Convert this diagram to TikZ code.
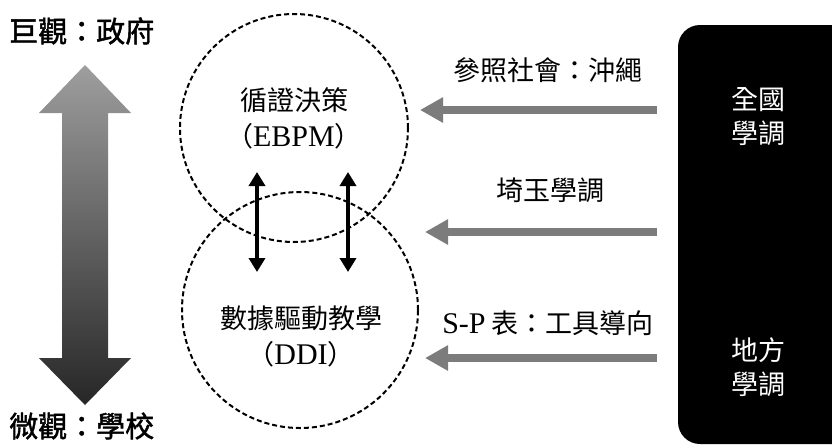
\documentclass[tikz,border=0pt]{standalone}
\usepackage{fontspec}
\setmainfont{Liberation Serif}
\newfontfamily\cjk{Noto Sans CJK TC}
\newfontfamily\cjkb[FakeBold=1.6]{Noto Sans CJK TC}
\newfontfamily\lat{Liberation Serif}
\usetikzlibrary{arrows.meta}
\definecolor{arrgray}{HTML}{7C7C7C}
\tikzset{
  circ/.style={circle, draw=black, line width=2pt, dash pattern=on 5pt off 3pt, inner sep=0pt},
  ctext/.style={font=\fontsize{27}{36}\selectfont\cjk, align=center, inner sep=0pt},
  title/.style={font=\fontsize{29}{34}\selectfont\cjkb, inner sep=0pt, anchor=west},
  lbl/.style={font=\fontsize{27}{32}\selectfont\cjk, inner sep=0pt},
  wtext/.style={font=\fontsize{27}{34}\selectfont\cjk, text=white, align=center, inner sep=0pt},
  grayarr/.style={draw=arrgray, line width=8pt, -{Triangle[length=23pt,width=24pt]}},
  blkarr/.style={draw=black, line width=4pt, {Triangle[length=14pt,width=16pt]}-{Triangle[length=14pt,width=16pt]}}
}
\begin{document}
\begin{tikzpicture}[x=1pt,y=-1pt]
\useasboundingbox (0,0) rectangle (832,445);
\fill[white] (0,0) rectangle (832,445);

% black box
\fill[black, rounded corners=22pt] (678,25) rectangle (880,444);
\node[wtext] (qg) at (758,117) {全國\\學調};
\node[wtext] (df) at (758,367) {地方\\學調};

% circles
\node[circ, minimum size=228pt] (ebpm) at (294,128) {};
\node[circ, minimum size=236pt] (ddi) at (300,310) {};
\node[ctext] (t1) at (294,118) {循證決策\\（{\lat\fontsize{30}{36}\selectfont EBPM}）};
\node[ctext] (t2) at (301,336) {數據驅動教學\\（{\lat\fontsize{30}{36}\selectfont DDI}）};

% black double arrows
\coordinate (a1t) at (257,172);
\coordinate (a1b) at (257,272);
\coordinate (a2t) at (348,172);
\coordinate (a2b) at (348,272);
\draw[blkarr] (a1t) -- (a1b);
\draw[blkarr] (a2t) -- (a2b);

% gray arrows
\coordinate (s1) at (657,110);
\coordinate (e1) at (420,110);
\coordinate (s2) at (657,232);
\coordinate (e2) at (425,232);
\coordinate (s3) at (657,358);
\coordinate (e3) at (425,358);
\draw[grayarr] (s1) -- (e1);
\draw[grayarr] (s2) -- (e2);
\draw[grayarr] (s3) -- (e3);

\node[lbl] (l1) at (548,70) {參照社會：沖繩};
\node[lbl] (l2) at (550,190) {埼玉學調};
\node[lbl] (l3) at (548,323) {{\lat\fontsize{30}{36}\selectfont S-P} 表：工具導向};

% big gradient double arrow
\shade[top color=black!38, bottom color=black!85]
  (85,65) -- (131,113) -- (108,113) -- (108,358) -- (131,358) -- (85,405)
  -- (39,358) -- (62,358) -- (62,113) -- (39,113) -- cycle;

% titles
\node[title] (macro) at (9,31) {巨觀：政府};
\node[title] (micro) at (9,426) {微觀：學校};
\end{tikzpicture}
\end{document}
